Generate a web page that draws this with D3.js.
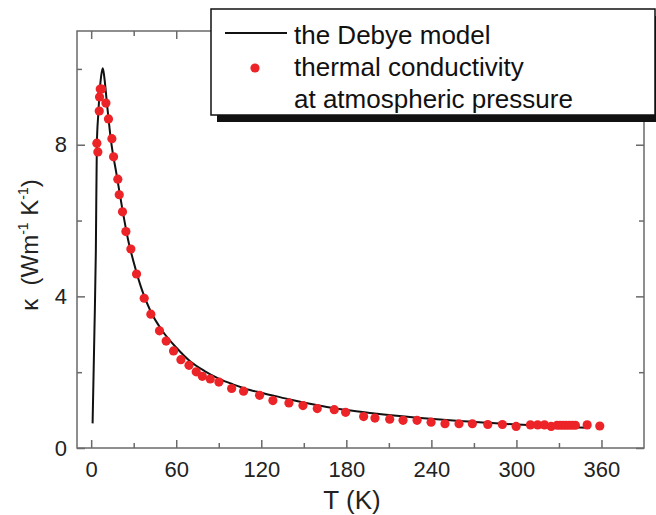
<!DOCTYPE html>
<html>
<head>
<meta charset="utf-8">
<script src="https://cdn.jsdelivr.net/npm/d3@7"></script>
<style>
  html, body { margin: 0; padding: 0; background: #fff; }
  svg { display: block; font-family: "Liberation Sans", Arial, Helvetica, sans-serif; }
</style>
</head>
<body>
<svg id="chart" width="656" height="515"></svg>
<script>
// ---- data ----
const measT = [4.0, 4.7, 5.7, 5.9, 6.4, 7.4, 10.4, 12.2, 14.6, 15.8, 18.8, 19.8, 22.1, 24.5, 28.0, 32.0, 37.4, 42.1,
  48.2, 52.9, 58.1, 63.3, 69.0, 74.1, 78.4, 84.0, 90.1, 99.1, 107.5, 118.8, 128.2, 139.5, 149.4, 159.5, 171.5,
  179.5, 192.2, 200.2, 210.6, 220.0, 229.9, 239.8, 249.6, 259.5, 268.9, 279.8, 290.1, 299.8, 309.9, 315.0,
  319.8, 324.5, 328.7, 330.8, 332.9, 335.0, 337.2, 339.4, 341.6, 349.9, 358.8];
const measK = [8.04, 7.81, 8.89, 9.26, 9.47, 9.47, 9.10, 8.68, 8.16, 7.68, 7.09, 6.68, 6.23, 5.71, 5.25, 4.59, 3.95, 3.53,
  3.09, 2.82, 2.56, 2.33, 2.18, 2.01, 1.89, 1.82, 1.74, 1.57, 1.50, 1.39, 1.25, 1.19, 1.12, 1.04, 1.01,
  0.94, 0.83, 0.79, 0.76, 0.73, 0.73, 0.68, 0.64, 0.64, 0.64, 0.62, 0.62, 0.57, 0.61, 0.61,
  0.61, 0.57, 0.60, 0.60, 0.60, 0.60, 0.60, 0.60, 0.60, 0.61, 0.58];
const debyeT = [1.0, 2.3, 3.3, 4.0, 5.0, 6.0, 7.0, 8.2, 9.2, 11.1, 14.0, 18.0, 22.0, 26.0, 30.0, 36.0, 42.0, 50.0,
  60.0, 70.0, 80.0, 90.0, 100.0, 112.0, 120.0, 140.0, 160.0, 180.0, 200.0, 230.0, 260.0, 300.0, 330.0, 350.0];
const debyeK = [0.65, 3.1, 5.2, 8.0, 8.8, 9.4, 9.8, 10.02, 9.8, 9.1, 8.1, 7.2, 6.3, 5.5, 4.9, 4.15, 3.6, 3.1,
  2.65, 2.28, 2.03, 1.83, 1.68, 1.53, 1.46, 1.28, 1.13, 1.0, 0.91, 0.8, 0.71, 0.62, 0.56, 0.53];
const xMajor = [0, 60, 120, 180, 240, 300, 360];
const xMinor = [30, 90, 150, 210, 270, 330];
const yMajor = [0, 4, 8];
const yMinor = [2, 6, 10];
const legendLabels = ["the Debye model", "thermal conductivity", "at atmospheric pressure"];

// ---- layout ----
const L = 77, R = 644, T = 31, B = 448;
const svg = d3.select("#chart");
const x = d3.scaleLinear().domain([-10, 390]).range([L, R]);
const y = d3.scaleLinear().domain([0, 11]).range([B, T]);
const axisColor = "#6a6a6a";
const red = "#ec2327";

// frame
svg.append("rect").attr("x", L).attr("y", T).attr("width", R - L).attr("height", B - T)
  .attr("fill", "none").attr("stroke", axisColor).attr("stroke-width", 1.5);

function styleAxis(g) {
  g.select(".domain").remove();
  g.selectAll(".tick line").attr("stroke", axisColor).attr("stroke-width", 1.5);
  g.selectAll(".tick text").attr("fill", "#222").attr("font-size", 22);
}

// bottom
svg.append("g").attr("transform", `translate(0,${B})`)
  .call(d3.axisBottom(x).tickValues(xMajor).tickSize(-8).tickPadding(13).tickFormat(d3.format("d")))
  .call(styleAxis);
svg.append("g").attr("transform", `translate(0,${B})`)
  .call(d3.axisBottom(x).tickValues(xMinor).tickSize(-5).tickFormat(""))
  .call(styleAxis);
// top
svg.append("g").attr("transform", `translate(0,${T})`)
  .call(d3.axisTop(x).tickValues(xMajor).tickSize(-8).tickFormat(""))
  .call(styleAxis);
svg.append("g").attr("transform", `translate(0,${T})`)
  .call(d3.axisTop(x).tickValues(xMinor).tickSize(-5).tickFormat(""))
  .call(styleAxis);
// left
svg.append("g").attr("transform", `translate(${L},0)`)
  .call(d3.axisLeft(y).tickValues(yMajor).tickSize(-8).tickPadding(10).tickFormat(d3.format("d")))
  .call(styleAxis);
svg.append("g").attr("transform", `translate(${L},0)`)
  .call(d3.axisLeft(y).tickValues(yMinor).tickSize(-5).tickFormat(""))
  .call(styleAxis);
// right
svg.append("g").attr("transform", `translate(${R},0)`)
  .call(d3.axisRight(y).tickValues(yMajor).tickSize(-8).tickFormat(""))
  .call(styleAxis);
svg.append("g").attr("transform", `translate(${R},0)`)
  .call(d3.axisRight(y).tickValues(yMinor).tickSize(-5).tickFormat(""))
  .call(styleAxis);

// axis titles
svg.append("text").attr("x", 352).attr("y", 509).attr("text-anchor", "middle")
  .attr("font-size", 26).attr("fill", "#222").text("T (K)");
const yt = svg.append("text").attr("transform", "translate(38,245) rotate(-90)")
  .attr("text-anchor", "middle").attr("font-size", 24).attr("fill", "#222")
  .attr("xml:space", "preserve");
yt.append("tspan").text("\u03BA  (Wm");
yt.append("tspan").attr("font-size", 14).attr("dy", -10).text("-1");
yt.append("tspan").attr("dy", 10).text(" K");
yt.append("tspan").attr("font-size", 14).attr("dy", -10).text("-1");
yt.append("tspan").attr("dy", 10).text(")");

// model curve
const debye = debyeT.map((t, i) => [t, debyeK[i]]);
svg.append("path").datum(debye)
  .attr("d", d3.line().x(d => x(d[0])).y(d => y(d[1])).curve(d3.curveMonotoneX))
  .attr("fill", "none").attr("stroke", "#111").attr("stroke-width", 2);

// measured points
const meas = measT.map((t, i) => [t, measK[i]]);
svg.append("g").selectAll("circle").data(meas).join("circle")
  .attr("cx", d => x(d[0])).attr("cy", d => y(d[1])).attr("r", 4.6).attr("fill", red);

// legend
const lg = svg.append("g");
lg.append("rect").attr("x", 217).attr("y", 16).attr("width", 450).attr("height", 106).attr("fill", "#111");
lg.append("rect").attr("x", 211).attr("y", 9).attr("width", 444).attr("height", 106)
  .attr("fill", "#fff").attr("stroke", "#111").attr("stroke-width", 1.5);
lg.append("line").attr("x1", 225).attr("x2", 287).attr("y1", 33).attr("y2", 33)
  .attr("stroke", "#111").attr("stroke-width", 2);
lg.append("circle").attr("cx", 255).attr("cy", 68).attr("r", 4.6).attr("fill", red);
lg.selectAll("text.lab").data(legendLabels).join("text").attr("class", "lab")
  .attr("x", 294).attr("y", (d, i) => [44, 76, 108][i])
  .attr("font-size", 26).attr("fill", "#111").text(d => d);
</script>
</body>
</html>
